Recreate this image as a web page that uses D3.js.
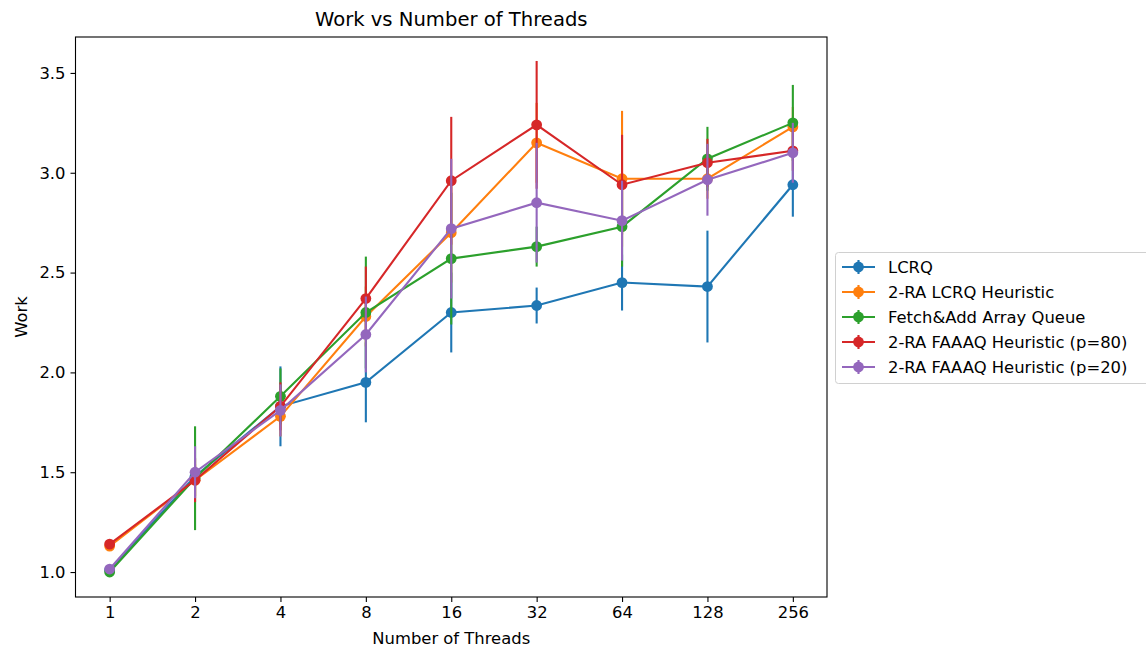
<!DOCTYPE html>
<html>
<head>
<meta charset="utf-8">
<script src="https://cdn.jsdelivr.net/npm/d3@7"></script>
<style>
  body { margin: 0; background: #fff; overflow: hidden; }
  text { font-family: "DejaVu Sans", sans-serif; fill: #000; }
</style>
</head>
<body>
<script>
var threads = [1, 2, 4, 8, 16, 32, 64, 128, 256]
var seriesNames = ["LCRQ", "2-RA LCRQ Heuristic", "Fetch&Add Array Queue",
                   "2-RA FAAAQ Heuristic (p=80)", "2-RA FAAAQ Heuristic (p=20)"]
var colors = ["#1f77b4", "#ff7f0e", "#2ca02c", "#d62728", "#9467bd"]

var lcrq      = [1.01, 1.48, 1.83, 1.95, 2.30, 2.335, 2.45, 2.43, 2.94]
var lcrqErr   = [0.01, 0.05, 0.20, 0.20, 0.20, 0.09, 0.14, 0.28, 0.16]
var raLcrq    = [1.13, 1.46, 1.78, 2.28, 2.70, 3.15, 2.97, 2.97, 3.23]
var raLcrqErr = [0.01, 0.08, 0.10, 0.15, 0.25, 0.20, 0.34, 0.10, 0.10]
var faaaq     = [1.00, 1.47, 1.88, 2.30, 2.57, 2.63, 2.73, 3.07, 3.25]
var faaaqErr  = [0.01, 0.26, 0.14, 0.28, 0.33, 0.10, 0.20, 0.16, 0.19]
var ra80      = [1.14, 1.46, 1.83, 2.37, 2.96, 3.24, 2.94, 3.05, 3.11]
var ra80Err   = [0.01, 0.11, 0.12, 0.16, 0.32, 0.32, 0.25, 0.12, 0.10]
var ra20      = [1.015, 1.50, 1.81, 2.19, 2.72, 2.85, 2.76, 2.965, 3.10]
var ra20Err   = [0.01, 0.13, 0.13, 0.19, 0.35, 0.30, 0.20, 0.18, 0.15]

var yTicks = [1.0, 1.5, 2.0, 2.5, 3.0, 3.5]

var values = [lcrq, raLcrq, faaaq, ra80, ra20]
var errors = [lcrqErr, raLcrqErr, faaaqErr, ra80Err, ra20Err]

var width = 1146, height = 651
var margin = {top: 37, left: 75.5, bottom: 54, right: 319}
var fs = "16.4px"

var svg = d3.select("body").append("svg")
    .attr("width", width).attr("height", height)

var x = d3.scaleLog().base(2)
    .domain([Math.pow(2, -0.4), Math.pow(2, 8.4)])
    .range([margin.left, width - margin.right])
var y = d3.scaleLinear()
    .domain([0.875, 3.68])
    .range([height - margin.bottom, margin.top])

// axes
svg.append("g")
    .attr("transform", "translate(0," + (height - margin.bottom) + ")")
    .call(d3.axisBottom(x).tickValues(threads).tickFormat(d3.format("d")).tickSizeOuter(0).tickSize(5).tickPadding(4))
svg.append("g")
    .attr("transform", "translate(" + margin.left + ",0)")
    .call(d3.axisLeft(y).tickValues(yTicks).tickFormat(d3.format(".1f")).tickSizeOuter(0).tickSize(5).tickPadding(5))
svg.selectAll(".tick text").style("font-size", fs).style("font-family", "DejaVu Sans")
svg.selectAll(".tick line").attr("stroke", "#000").attr("stroke-width", 1.1)
svg.selectAll(".domain").remove()

// frame
svg.append("rect")
    .attr("x", margin.left).attr("y", margin.top)
    .attr("width", width - margin.right - margin.left)
    .attr("height", height - margin.bottom - margin.top)
    .attr("fill", "none").attr("stroke", "#000").attr("stroke-width", 1.1)

var plot = svg.append("g")

values.forEach(function(vals, s) {
    var pts = threads.map(function(t, i) { return {t: t, v: vals[i], e: errors[s][i]} })
    var g = plot.append("g")
    g.selectAll("line.err").data(pts).enter().append("line")
        .attr("x1", function(d) { return x(d.t) })
        .attr("x2", function(d) { return x(d.t) })
        .attr("y1", function(d) { return y(d.v - d.e) })
        .attr("y2", function(d) { return y(d.v + d.e) })
        .attr("stroke", colors[s]).attr("stroke-width", 2.1)
    g.append("path").datum(pts)
        .attr("d", d3.line().x(function(d) { return x(d.t) }).y(function(d) { return y(d.v) }))
        .attr("fill", "none").attr("stroke", colors[s]).attr("stroke-width", 2.1)
    g.selectAll("circle").data(pts).enter().append("circle")
        .attr("cx", function(d) { return x(d.t) })
        .attr("cy", function(d) { return y(d.v) })
        .attr("r", 5.4).attr("fill", colors[s])
})

// title and labels
svg.append("text").attr("x", (margin.left + width - margin.right) / 2).attr("y", 26)
    .attr("text-anchor", "middle").style("font-size", "19.6px").text("Work vs Number of Threads")
svg.append("text").attr("x", (margin.left + width - margin.right) / 2).attr("y", 644)
    .attr("text-anchor", "middle").style("font-size", fs).text("Number of Threads")
svg.append("text").attr("transform", "translate(27," + ((margin.top + height - margin.bottom) / 2) + ") rotate(-90)")
    .attr("text-anchor", "middle").style("font-size", fs).text("Work")

// legend
var legend = svg.append("g").attr("transform", "translate(835,252)")
legend.append("rect")
    .attr("x", 0.5).attr("y", 0.5).attr("width", 320).attr("height", 131)
    .attr("rx", 3).attr("fill", "#fff").attr("stroke", "#d0d0d0").attr("stroke-width", 1)
seriesNames.forEach(function(name, i) {
    var row = legend.append("g").attr("transform", "translate(0," + (15 + i * 25) + ")")
    row.append("line").attr("x1", 7).attr("x2", 40).attr("y1", 0).attr("y2", 0)
        .attr("stroke", colors[i]).attr("stroke-width", 2.1)
    row.append("line").attr("x1", 23.5).attr("x2", 23.5).attr("y1", -7).attr("y2", 7)
        .attr("stroke", colors[i]).attr("stroke-width", 2.1)
    row.append("circle").attr("cx", 23.5).attr("cy", 0).attr("r", 5.4).attr("fill", colors[i])
    row.append("text").attr("x", 53).attr("y", 6).style("font-size", fs).text(name)
})
</script>
</body>
</html>
